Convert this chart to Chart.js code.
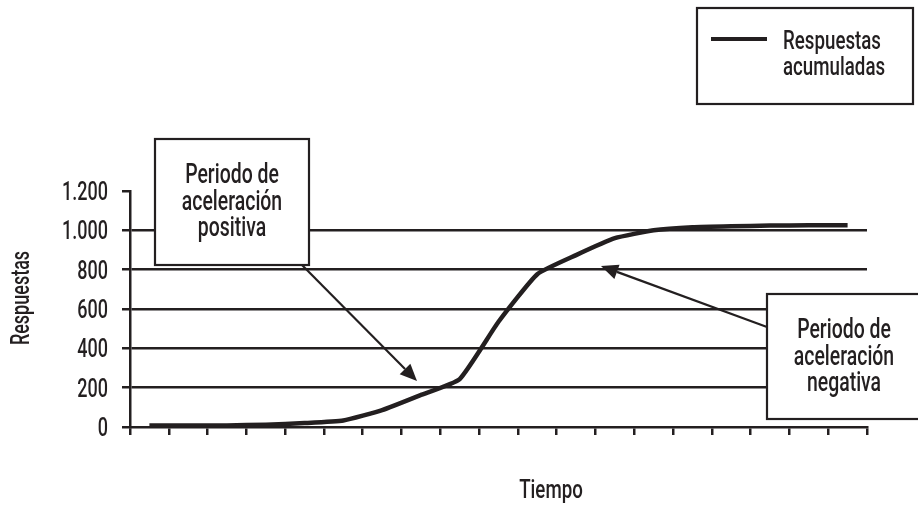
<!DOCTYPE html>
<html lang="es">
<head>
<meta charset="utf-8">
<title>Respuestas acumuladas</title>
<script src="https://cdn.jsdelivr.net/npm/chart.js@4"></script>
<style>
  html, body { margin: 0; padding: 0; background: #ffffff; }
  #wrap { width: 918px; height: 507px; }
</style>
</head>
<body>
<div id="wrap"><canvas id="curvaRespuestas" width="918" height="507"></canvas></div>
<script>
// Datos de la curva (respuestas acumuladas por periodo)
const periodos = [1, 2, 3, 4, 5, 6, 7, 8, 9, 10, 11, 12, 13, 14, 15, 16, 17, 18, 19];
const respuestas = [8, 8, 8, 12, 20, 33, 86, 163, 244, 535, 777, 874, 960, 1000, 1016, 1021, 1024, 1026, 1026];
const marcasY = [0, 200, 400, 600, 800, 1000, 1200];

const TINTA = '#231f20';
const FUENTE = "Roboto, 'DejaVu Sans Condensed', sans-serif";
const ESTRECHO = 0.72; // letra condensada: se comprime en horizontal

// 1.200 -> separador de miles con punto
const conPunto = (v) => String(v).replace(/\B(?=(\d{3})+(?!\d))/g, '.');

// Texto condensado
function texto(ctx, str, x, y, size, align) {
    ctx.save();
    ctx.translate(x, y);
    ctx.scale(ESTRECHO, 1);
    ctx.font = '500 ' + size + 'px ' + FUENTE;
    ctx.fillStyle = TINTA;
    ctx.textAlign = align || 'center';
    ctx.textBaseline = 'alphabetic';
    ctx.fillText(str, 0, 0);
    ctx.restore();
}

// Caja con texto centrado
function caja(ctx, x, y, w, h, lineas, cx, base, paso) {
    ctx.fillStyle = '#ffffff';
    ctx.fillRect(x, y, w, h);
    ctx.strokeStyle = TINTA;
    ctx.lineWidth = 2.2;
    ctx.strokeRect(x, y, w, h);
    lineas.forEach((t, i) => texto(ctx, t, cx, base + i * paso, 27));
}

// Flecha con punta rellena
function flecha(ctx, x1, y1, x2, y2) {
    const ang = Math.atan2(y2 - y1, x2 - x1);
    const largo = 17, ancho = 7.5;
    const bx = x2 - largo * Math.cos(ang), by = y2 - largo * Math.sin(ang);
    ctx.strokeStyle = TINTA;
    ctx.lineWidth = 2.2;
    ctx.beginPath();
    ctx.moveTo(x1, y1);
    ctx.lineTo(bx, by);
    ctx.stroke();
    ctx.fillStyle = TINTA;
    ctx.beginPath();
    ctx.moveTo(x2, y2);
    ctx.lineTo(bx + ancho * Math.sin(ang), by - ancho * Math.cos(ang));
    ctx.lineTo(bx - ancho * Math.sin(ang), by + ancho * Math.cos(ang));
    ctx.closePath();
    ctx.fill();
}

// Etiquetas del eje Y, títulos, leyenda y recuadros explicativos
const anotaciones = {
    id: 'anotaciones',
    afterDraw(chart) {
        const ctx = chart.ctx;
        const ejeY = chart.scales.y;
        ctx.save();

        // Etiquetas del eje Y en la posición de cada marca
        ejeY.ticks.forEach(t => {
            texto(ctx, conPunto(t.value), 108, ejeY.getPixelForValue(t.value) + 9, 25, 'right');
        });

        // Título del eje Y (girado)
        ctx.save();
        ctx.translate(29, 298);
        ctx.rotate(-Math.PI / 2);
        texto(ctx, 'Respuestas', 0, 0, 25);
        ctx.restore();

        // Título del eje X
        texto(ctx, 'Tiempo', 551, 498, 26);

        // Leyenda
        ctx.strokeStyle = TINTA;
        ctx.lineWidth = 2.2;
        ctx.strokeRect(697, 8, 216, 96);
        ctx.lineWidth = 4;
        ctx.beginPath();
        ctx.moveTo(711, 39);
        ctx.lineTo(767, 39);
        ctx.stroke();
        texto(ctx, 'Respuestas', 783, 49, 26, 'left');
        texto(ctx, 'acumuladas', 783, 75, 26, 'left');

        // Recuadro: aceleración positiva
        caja(ctx, 155, 139, 154, 126, ['Periodo de', 'aceleración', 'positiva'], 232, 183, 26.5);
        flecha(ctx, 302, 265, 417, 381);

        // Recuadro: aceleración negativa
        caja(ctx, 767, 294, 160, 125, ['Periodo de', 'aceleración', 'negativa'], 844, 338, 26.5);
        flecha(ctx, 767, 327, 601, 266);

        ctx.restore();
    }
};

new Chart(document.getElementById('curvaRespuestas'), {
    type: 'line',
    data: {
        labels: periodos,
        datasets: [{
            label: 'Respuestas acumuladas',
            data: respuestas,
            borderColor: TINTA,
            borderWidth: 4.5,
            pointRadius: 0,
            fill: false,
            tension: 0.15
        }]
    },
    options: {
        responsive: false,
        animation: false,
        layout: { padding: { left: 0, right: 51, top: 191, bottom: 0 } },
        plugins: {
            legend: { display: false },
            tooltip: { enabled: false }
        },
        scales: {
            x: {
                type: 'category',
                offset: true,
                grid: {
                    offset: true,
                    drawOnChartArea: false,
                    drawTicks: true,
                    tickLength: 8,
                    color: TINTA,
                    lineWidth: 2.5
                },
                border: { display: true, color: TINTA, width: 2.5 },
                ticks: { display: false },
                afterFit: (scale) => { scale.height = 80; }
            },
            y: {
                min: 0,
                max: 1200,
                afterBuildTicks: (scale) => { scale.ticks = marcasY.map(v => ({ value: v })); },
                grid: {
                    color: (c) => (c.tick && (c.tick.value === 0 || c.tick.value === 1200)) ? 'rgba(0,0,0,0)' : TINTA,
                    tickColor: TINTA,
                    lineWidth: 2.5,
                    tickLength: 8
                },
                border: { display: true, color: TINTA, width: 2.5 },
                ticks: { display: false },
                afterFit: (scale) => { scale.width = 130; }
            }
        }
    },
    plugins: [anotaciones]
});
</script>
</body>
</html>
